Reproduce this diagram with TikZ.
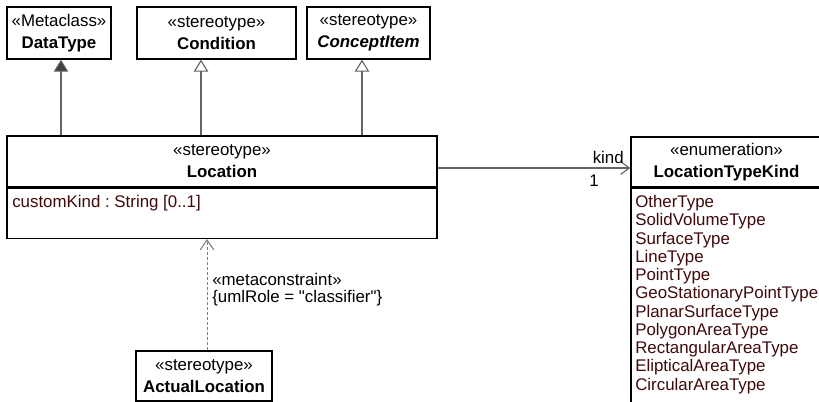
\documentclass[tikz,border=0pt]{standalone}
\usepackage{fontspec}
\setmainfont{Liberation Sans}[Ligatures=TeXOff]
\usetikzlibrary{arrows.meta, positioning}

\definecolor{attrred}{RGB}{64,10,10}
\definecolor{linegray}{RGB}{100,100,100}
\newcommand{\umlfont}{\fontsize{12}{13}\selectfont}
\frenchspacing

\begin{document}
\begin{tikzpicture}[
    % Node styles
    umlclass/.style={rectangle, draw=black, fill=white, line width=0.9pt, inner sep=0pt,
                  minimum height=1.3cm, align=center, font=\umlfont},
    compart/.style={rectangle, draw=black, fill=white, line width=0.9pt, inner sep=0pt},
    attr/.style={inner sep=0pt, align=left, color=attrred, font=\umlfont},
    lbl/.style={inner sep=0pt, font=\umlfont},
    % Connector styles
    metaarrow/.style={-{Triangle[length=0.3cm, width=0.36cm, fill=black!75]}, line width=0.8pt, color=linegray},
    generalize/.style={-{Triangle[open, length=0.3cm, width=0.36cm]}, line width=0.8pt, color=linegray},
    assoc/.style={-{Straight Barb[length=0.22cm, width=0.32cm]}, line width=0.8pt, color=linegray},
    depend/.style={-{Straight Barb[length=0.25cm, width=0.34cm, line width=0.8pt]}, line width=0.7pt, color=gray,
                   dash pattern=on 0.075cm off 0.05cm}
]

\useasboundingbox (0,0) rectangle (20.475,10.05);
\clip (0,0) rectangle (20.475,10.05);

% Top row
\node[umlclass, minimum width=2.6cm] (datatype) at (1.475,9.225) {«Metaclass»\\[2.6pt]\textbf{DataType}};
\node[umlclass, minimum width=3.975cm] (condition) at (5.4125,9.225) {«stereotype»\\[2.6pt]\textbf{Condition}};
\node[umlclass, minimum width=3.075cm] (conceptitem) at (9.2125,9.225) {«stereotype»\\[2.6pt]\textbf{\textit{ConceptItem}}};

% Location
\node[umlclass, minimum width=10.75cm, minimum height=1.275cm] (lochead) at (5.55,6.0125) {«stereotype»\\[2.6pt]\textbf{Location}};
\node[compart, minimum width=10.75cm, minimum height=1.25cm, below=0cm of lochead] (locbody) {};
\node[attr, anchor=north west] (custkind) at (0.3,5.175) {customKind : String [0..1]};

% LocationTypeKind
\node[umlclass, minimum width=4.775cm, minimum height=1.25cm] (ltkhead) at (18.1625,6.0) {«enumeration»\\[2.6pt]\textbf{LocationTypeKind}};
\node[compart, minimum width=4.775cm, minimum height=5.625cm, below=0cm of ltkhead] (ltkbody) {};
\node[attr, anchor=north west] (ltkitems) at (15.875,5.175) {OtherType\\SolidVolumeType\\SurfaceType\\LineType\\PointType\\GeoStationaryPointType\\PlanarSurfaceType\\PolygonAreaType\\RectangularAreaType\\ElipticalAreaType\\CircularAreaType};

% ActualLocation
\node[umlclass, minimum width=3.4cm, minimum height=1.25cm] (actualloc) at (5.1,0.65) {«stereotype»\\[2.6pt]\textbf{ActualLocation}};

% Arrows
\draw[metaarrow] (lochead.north -| 1.525,0) -- (datatype.south -| 1.525,0);
\draw[generalize] (lochead.north -| 5.025,0) -- (condition.south -| 5.025,0);
\draw[generalize] (lochead.north -| 9.05,0) -- (conceptitem.south -| 9.05,0);
\draw[assoc] (lochead.east |- 0,5.85) -- (ltkhead.west |- 0,5.85);
\draw[depend] (actualloc.north -| 5.175,0) -- (locbody.south -| 5.175,0);

% Labels
\node[lbl, anchor=east] (kindlbl) at (15.6,6.125) {kind};
\node[lbl] (multlbl) at (14.85,5.525) {1};
\node[lbl, align=left, anchor=north west, font=\fontsize{12}{12}\selectfont] (mclbl) at (5.3,3.225)
    {«metaconstraint»\\\{umlRole = "classifier"\}};

\end{tikzpicture}
\end{document}
